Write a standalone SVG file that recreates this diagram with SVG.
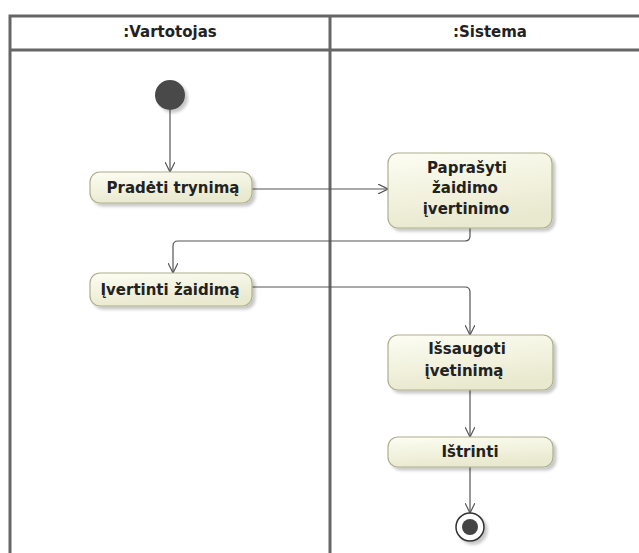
<svg xmlns="http://www.w3.org/2000/svg" width="639" height="553" viewBox="0 0 639 553">
  <defs>
    <linearGradient id="actFill" x1="0" y1="0" x2="0.3" y2="1">
      <stop offset="0" stop-color="#fdfdf3"/>
      <stop offset="1" stop-color="#e9e9cf"/>
    </linearGradient>
    <filter id="shadow" x="-10%" y="-10%" width="130%" height="150%">
      <feGaussianBlur in="SourceAlpha" stdDeviation="1.8"/>
      <feOffset dx="3" dy="3" result="b"/>
      <feComponentTransfer><feFuncA type="linear" slope="0.22"/></feComponentTransfer>
      <feMerge><feMergeNode/><feMergeNode in="SourceGraphic"/></feMerge>
    </filter>
    <marker id="open" viewBox="0 0 10 10" refX="10" refY="5" markerWidth="10" markerHeight="10" markerUnits="userSpaceOnUse" orient="auto">
      <path d="M0,0 L10,5 L0,10" fill="none" stroke="#555" stroke-width="1.2"/>
    </marker>
    <style>
      .lane { stroke: #666; stroke-width: 3; fill: none; }
      .hdr { font-family: "DejaVu Sans", "Liberation Sans", sans-serif; font-weight: bold; font-size: 15px; fill: #222; text-anchor: middle; }
      .act { fill: url(#actFill); stroke: #aeae8c; stroke-width: 1.2; filter: url(#shadow); }
      .lbl { font-family: "DejaVu Sans", "Liberation Sans", sans-serif; font-weight: bold; font-size: 15px; fill: #222; text-anchor: middle; }
      .flow { fill: none; stroke: #555; stroke-width: 1.2; marker-end: url(#open); }
    </style>
  </defs>

  <rect width="639" height="553" fill="#fff"/>

  <!-- swimlanes -->
  <g id="lanes">
    <path class="lane" d="M10,553 V16 H639 M10,50 H639 M330,16 V553"/>
    <text class="hdr" x="170" y="37">:Vartotojas</text>
    <text class="hdr" x="490" y="37">:Sistema</text>
  </g>

  <!-- control flows -->
  <g id="connectors">
    <path class="flow" d="M170,110 V172"/>
    <path class="flow" d="M252,189 H388"/>
    <path class="flow" d="M470,228 V236 Q470,241 465,241 H178 Q173,241 173,246 V273"/>
    <path class="flow" d="M252,287 H465 Q470,287 470,292 V335"/>
    <path class="flow" d="M470,390 V437"/>
    <path class="flow" d="M470,467 V513"/>
  </g>

  <g id="initial">
    <circle cx="170" cy="95" r="15" fill="#4a4a4a" filter="url(#shadow)"/>
  </g>

  <g id="pradeti">
    <rect class="act" x="90" y="172" width="162" height="31" rx="10"/>
    <text class="lbl" x="173" y="193">Pradėti trynimą</text>
  </g>

  <g id="paprasyti">
    <rect class="act" x="388" y="153" width="164" height="75" rx="10"/>
    <text class="lbl" x="467" y="173">Paprašyti</text>
    <text class="lbl" x="465" y="193">žaidimo</text>
    <text class="lbl" x="466" y="214">įvertinimo</text>
  </g>

  <g id="ivertinti">
    <rect class="act" x="90" y="273" width="162" height="33" rx="10"/>
    <text class="lbl" x="170" y="295">Įvertinti žaidimą</text>
  </g>

  <g id="issaugoti">
    <rect class="act" x="388" y="335" width="165" height="55" rx="10"/>
    <text class="lbl" x="467" y="354">Išsaugoti</text>
    <text class="lbl" x="464" y="376">įvetinimą</text>
  </g>

  <g id="istrinti">
    <rect class="act" x="388" y="437" width="165" height="30" rx="10"/>
    <text class="lbl" x="470" y="457">Ištrinti</text>
  </g>

  <g id="final">
    <circle cx="470" cy="527" r="14" fill="#fff" stroke="#333" stroke-width="1.5" filter="url(#shadow)"/>
    <circle cx="470" cy="527" r="8" fill="#444"/>
  </g>
</svg>
